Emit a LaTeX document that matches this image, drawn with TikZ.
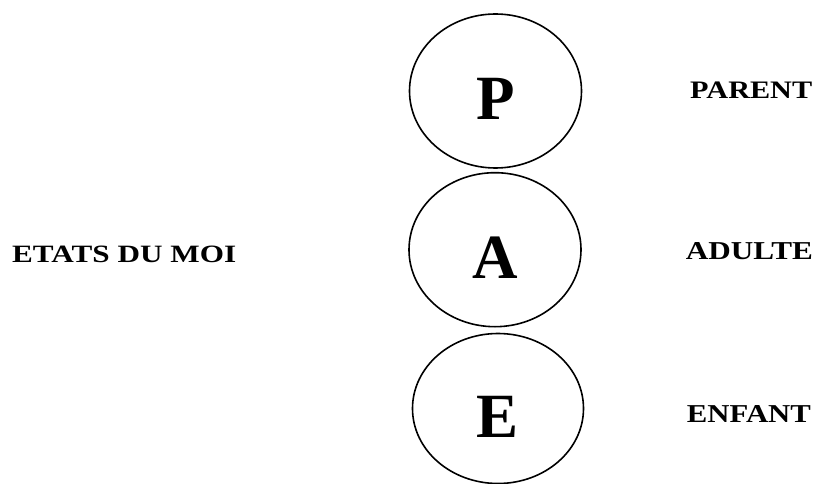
\documentclass[tikz,border=0pt]{standalone}
\usepackage{fontspec}
\setmainfont{Liberation Serif}
\usepackage{graphicx}
\usetikzlibrary{shapes.geometric}
\newcommand{\egoletter}[1]{\raisebox{-29pt}[0pt][0pt]{#1}}
\begin{document}
\begin{tikzpicture}[x=1pt,y=-1pt,
  egostate/.style={draw=black,line width=1.6pt,ellipse,minimum width=172pt,minimum height=154pt,inner sep=0pt,
    font=\fontsize{63}{63}\selectfont\bfseries},
  lbl/.style={anchor=base west,inner sep=0pt,font=\bfseries}]
\useasboundingbox (0,0) rectangle (817,484);
\node[egostate] (P) at (495.5,91) {\egoletter{P}};
\node[egostate] (A) at (495,249.7) {\egoletter{A}};
\node[egostate,minimum width=171pt,minimum height=150pt] (E) at (498,408.5) {\egoletter{E}};
\node[lbl] (lp) at (690,98.3) {\resizebox{122pt}{16.6pt}{PARENT}};
\node[lbl] (la) at (685.7,259) {\resizebox{127pt}{17pt}{ADULTE}};
\node[lbl] (le) at (686.7,422) {\resizebox{124pt}{17pt}{ENFANT}};
\node[lbl] (lm) at (12,262) {\resizebox{224pt}{16.5pt}{ETATS DU MOI}};
\end{tikzpicture}
\end{document}
